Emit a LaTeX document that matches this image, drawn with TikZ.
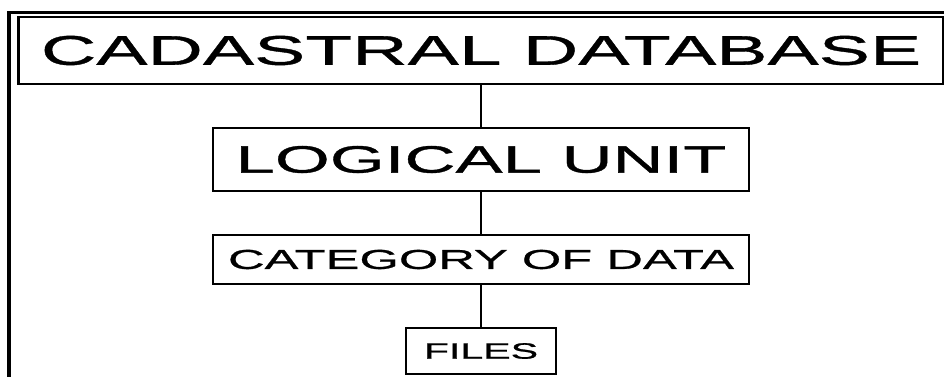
\documentclass[tikz,border=0pt]{standalone}
\usepackage{fontspec}
\newfontfamily\boxfont[FakeStretch=1.85,FakeBold=0.9]{Liberation Sans}
\usetikzlibrary{positioning}

\begin{document}
\begin{tikzpicture}[lbox/.style={draw,line width=2.6pt,inner sep=0pt,outer sep=0pt,minimum width=#1},
   lbox/.default=536pt,
   link/.style={line width=2.6pt},
   node distance=44pt]
 \useasboundingbox (0,0) rectangle (944pt,-376pt);

 %cornice esterna
 \draw[line width=3.4pt] (950pt,-12.5pt) -| (9pt,-380pt);

 %livelli della gerarchia
 \node[lbox=925pt, minimum height=67pt, font=\boxfont\fontsize{41.5}{45}\selectfont]
      (cad_db) at (481pt,-50.5pt) {CADASTRAL DATABASE};
 \node[lbox, minimum height=63pt, font=\boxfont\fontsize{38.2}{42}\selectfont,
      below=of cad_db] (log_unit) {LOGICAL UNIT};
 \node[lbox, minimum height=49pt, font=\boxfont\fontsize{27.4}{31}\selectfont,
      below=of log_unit] (cat_data) {CATEGORY OF DATA};
 \node[lbox=150pt, minimum height=46pt, font=\boxfont\fontsize{22.2}{25}\selectfont,
      below=of cat_data] (files) {FILES};

 %collegamenti
 \draw[link] (cad_db) -- (log_unit);
 \draw[link] (log_unit) -- (cat_data);
 \draw[link] (cat_data) -- (files);
\end{tikzpicture}
\end{document}
